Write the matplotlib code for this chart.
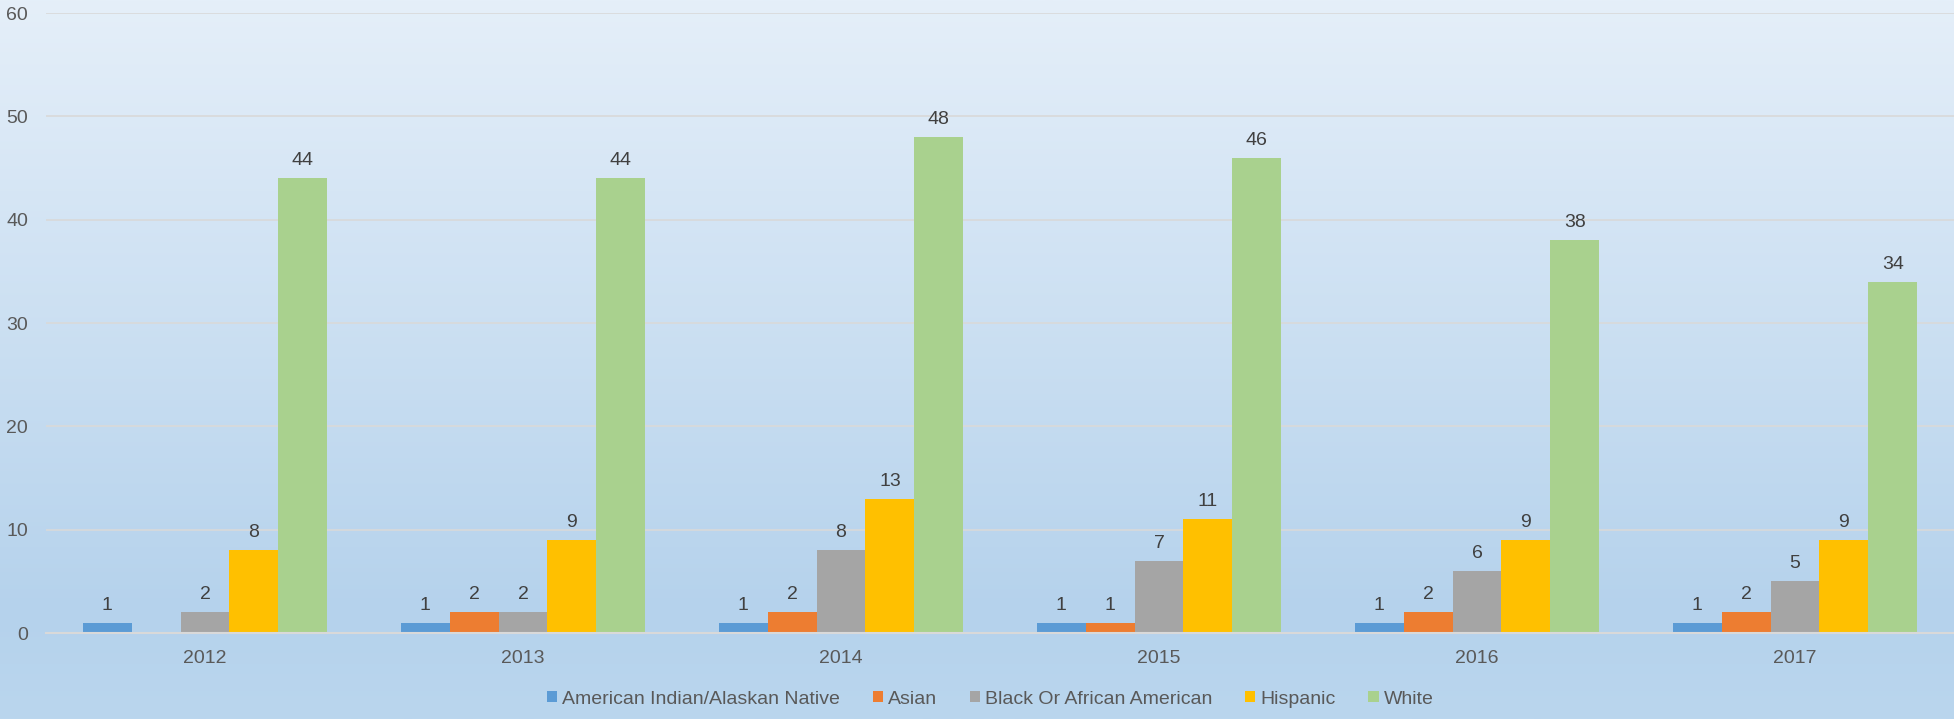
import matplotlib
matplotlib.use('Agg')
import matplotlib.pyplot as plt
import numpy as np
from matplotlib.colors import LinearSegmentedColormap
from matplotlib.patches import Patch

plt.rcParams['font.family'] = ['Liberation Sans', 'DejaVu Sans']

years = ['2012', '2013', '2014', '2015', '2016', '2017']
groups = ['American Indian/Alaskan Native', 'Asian', 'Black Or African American', 'Hispanic', 'White']
american_indian = [1, 1, 1, 1, 1, 1]
asian = [0, 2, 2, 1, 2, 2]
black = [2, 2, 8, 7, 6, 5]
hispanic = [8, 9, 13, 11, 9, 9]
white = [44, 44, 48, 46, 38, 34]
series = [american_indian, asian, black, hispanic, white]
colors = ['#5b9bd5', '#ed7d31', '#a5a5a5', '#ffc000', '#a9d18e']

W, H = 1954, 719
fig = plt.figure(figsize=(W / 100, H / 100), dpi=100)

# gradient background
bg = fig.add_axes([0, 0, 1, 1], zorder=-10)
cmap = LinearSegmentedColormap.from_list('bg', [(0, '#e5eff9'), (0.85, '#b5d2ec'), (1, '#bad6ee')])
bg.imshow(np.linspace(0, 1, 256).reshape(-1, 1), aspect='auto', cmap=cmap, extent=[0, 1, 0, 1])
bg.axis('off')

ax = fig.add_axes([46 / W, 1 - 633 / H, 1 - 46 / W, (633 - 13) / H])
ax.set_facecolor('none')

x = np.arange(len(years))
bw = 1 / 6.5
for i, (vals, c) in enumerate(zip(series, colors)):
    pos = x + (i - 2) * bw
    ax.bar(pos, vals, width=bw, color=c, zorder=3)
    for p, v in zip(pos, vals):
        if v > 0:
            ax.annotate(str(v), (p, v), xytext=(0, 13), textcoords='offset pixels',
                        ha='center', va='baseline', fontsize=14, color='#404040', zorder=4)

ax.set_xlim(-0.5, len(years) - 0.5)
ax.set_ylim(0, 60)
ax.set_yticks(range(0, 61, 10))
ax.set_xticks(x)
ax.set_xticklabels(years)
ax.grid(axis='y', color='#d9d9d9', linewidth=1.2, zorder=0)
for s in ['top', 'right', 'left']:
    ax.spines[s].set_visible(False)
ax.spines['bottom'].set_color('#d9d9d9')
ax.spines['bottom'].set_linewidth(1.5)
ax.spines['bottom'].set_zorder(5)
ax.tick_params(axis='both', length=0, labelsize=14, labelcolor='#595959')
ax.tick_params(axis='y', pad=13)
ax.tick_params(axis='x', pad=12.5)

handles = [Patch(facecolor=c, edgecolor='none') for c in colors]
fig.legend(handles, groups, loc='center', bbox_to_anchor=(990 / W, 1 - 699 / H), ncol=5,
           frameon=False, fontsize=14, labelcolor='#595959', handlelength=0.52,
           handleheight=0.52, handletextpad=0.25, columnspacing=1.7)

fig.savefig('out.png', dpi=100)
